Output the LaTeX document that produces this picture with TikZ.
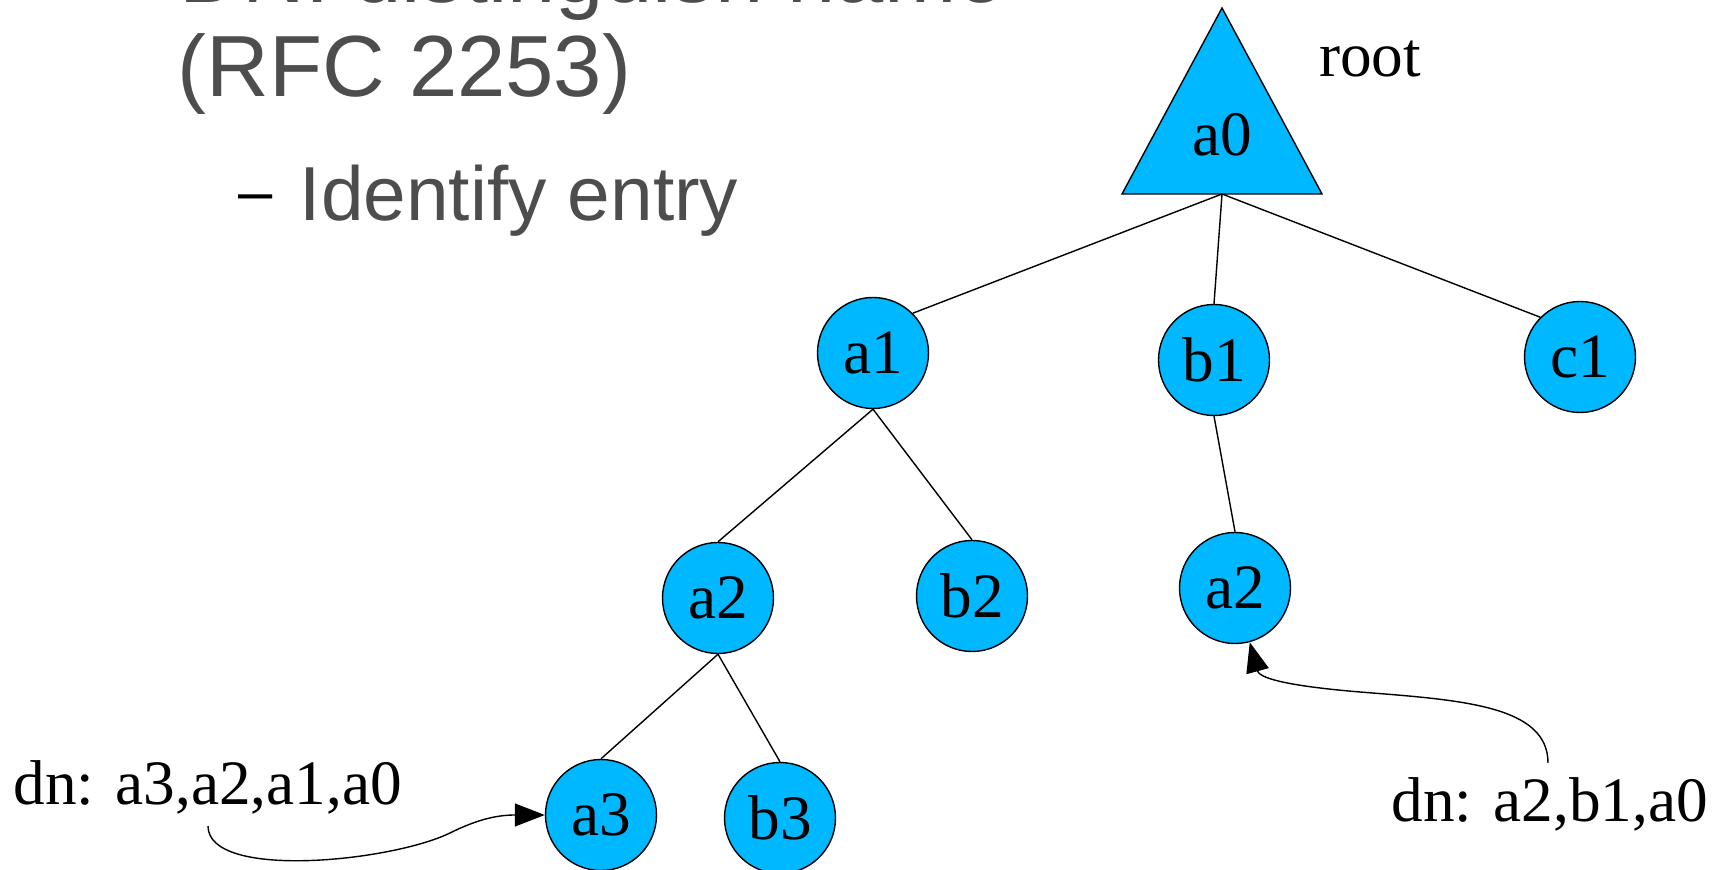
\documentclass[tikz,border=0pt]{standalone}
\usepackage{fontspec}
\setmainfont{Liberation Serif}
\newfontfamily\slidefont{Liberation Sans}
\usetikzlibrary{positioning,arrows.meta}
\definecolor{nodeblue}{RGB}{0,184,255}
\definecolor{slidegray}{HTML}{4D4D4D}
\tikzset{
  entry/.style={circle,draw,fill=nodeblue,line width=.4pt,minimum size=1.11cm,inner sep=0pt,font=\fontsize{18}{22}\selectfont},
  lbl/.style={inner sep=0pt,font=\fontsize{18}{22}\selectfont},
  ptr/.style={-{Triangle[length=3mm,width=2.3mm]},line width=.4pt},
  slide/.style={anchor=base west,inner sep=0pt,text=slidegray}
}

\begin{document}
\begin{tikzpicture}
\clip (0,0) rectangle (17.15,-8.70);

\node[slide,font=\slidefont\fontsize{24.7}{28}\selectfont] (t1) at (1.79,-0.03) {DN: distinguish name};
\node[slide,font=\slidefont\fontsize{24.7}{28}\selectfont] (t2) at (1.77,-0.97) {(RFC 2253)};
\node[anchor=base west,inner sep=0pt,font=\slidefont\fontsize{17.5}{20}\selectfont] (dash) at (2.38,-2.13) {–};
\node[slide,font=\slidefont\fontsize{21.8}{25}\selectfont] (t3) at (2.99,-2.21) {Identify entry};

\draw[fill=nodeblue,line width=.4pt] (11.22,-1.94) -- (12.22,-0.08) -- (13.22,-1.94) -- cycle;
\node[lbl] (a0) at (12.22,-1.35) {a0};
\coordinate (a0s) at (12.22,-1.94);
\node[lbl,anchor=base] (root) at (13.70,-0.77) {root};

\node[entry] (a1) at (8.73,-3.53) {a1};
\node[entry] (b1) at (12.14,-3.60) {b1};
\node[entry] (c1) at (15.80,-3.57) {c1};
\node[entry] (a2) at (7.18,-5.98) {a2};
\node[entry] (b2) at (9.72,-5.96) {b2};
\node[entry] (a2r) at (12.35,-5.88) {a2};
\node[entry] (a3) at (6.01,-8.15) {a3};
\node[entry] (b3) at (7.80,-8.18) {b3};

\draw (a0s) -- (a1.north east);
\draw (a0s) -- (b1.north);
\draw (a0s) -- (c1.north west);
\draw (a1.south) -- (a2.north);
\draw (a1.south) -- (b2.north);
\draw (b1.south) -- (a2r.north);
\draw (a2.south) -- (a3.north);
\draw (a2.south) -- (b3.north);

\node[lbl,anchor=base west] (dnl) at (0.13,-8.05) {dn: a3,a2,a1,a0};
\node[lbl,anchor=base west] (dnr) at (13.91,-8.22) {dn: a2,b1,a0};
\coordinate (lstart) at (2.08,-8.26);
\coordinate (rstart) at (15.48,-7.63);

\draw[ptr] (lstart) .. controls (2.08,-8.80) and (3.90,-8.62) .. (4.50,-8.33) .. controls (4.80,-8.18) and (5.00,-8.15) .. (a3);
\draw[ptr] (rstart) .. controls (15.48,-7.05) and (14.60,-7.00) .. (13.60,-6.92) .. controls (13.00,-6.87) and (12.60,-6.80) .. (a2r);
\end{tikzpicture}
\end{document}
